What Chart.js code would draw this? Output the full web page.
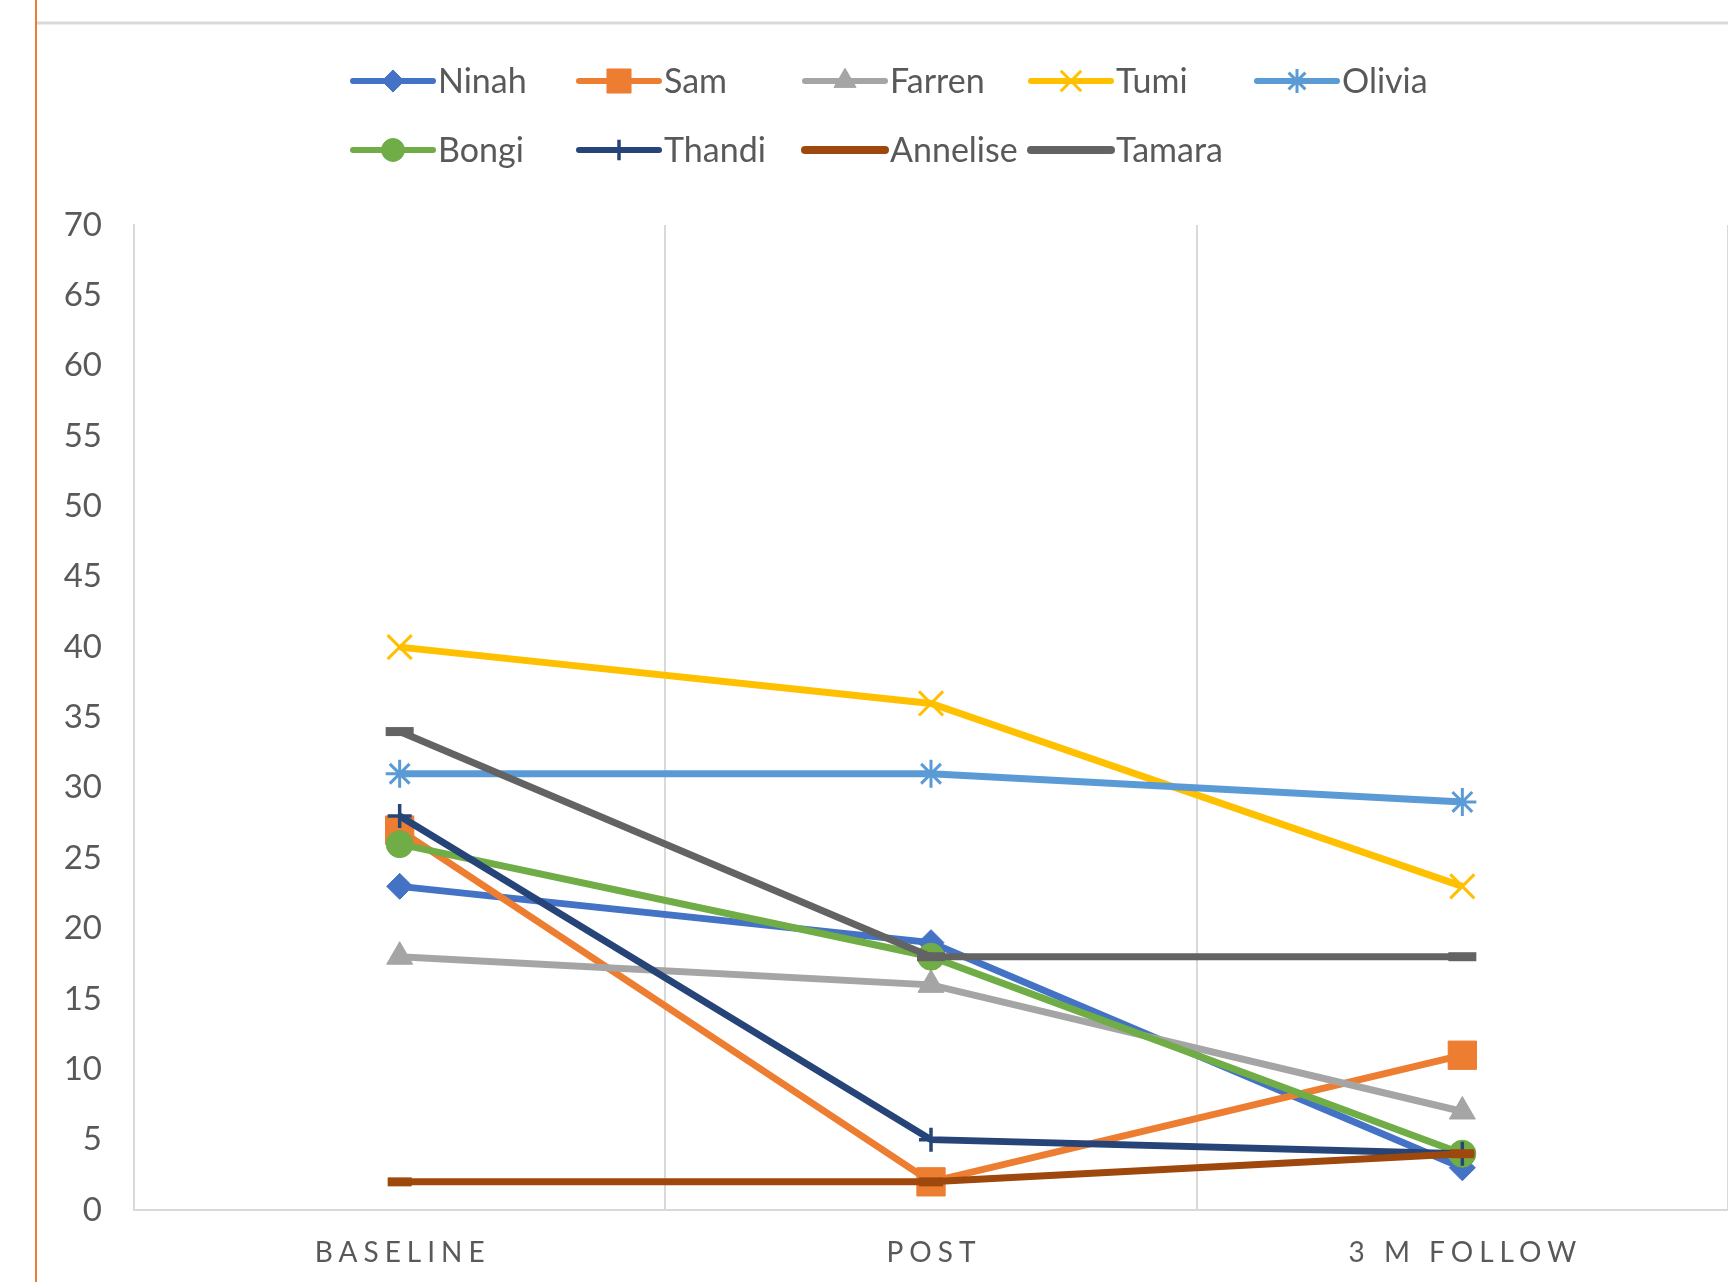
<!DOCTYPE html>
<html>
<head>
<meta charset="utf-8">
<script src="https://cdn.jsdelivr.net/npm/chart.js@4/dist/chart.umd.min.js"></script>
<style>
  html, body { margin: 0; padding: 0; background: #fff; }
  #wrap { width: 1728px; height: 1282px; }
</style>
</head>
<body>
<div id="wrap"><canvas id="scoreChart" width="1728" height="1282"></canvas></div>
<script>
const categories = ['BASELINE', 'POST', '3 M FOLLOW'];
const names = ['Ninah', 'Sam', 'Farren', 'Tumi', 'Olivia', 'Bongi', 'Thandi', 'Annelise', 'Tamara'];

const ninah = [23, 19, 3];
const sam = [27, 2, 11];
const farren = [18, 16, 7];
const tumi = [40, 36, 23];
const olivia = [31, 31, 29];
const bongi = [26, 18, 4];
const thandi = [28, 5, 4];
const annelise = [2, 2, 4];
const tamara = [34, 18, 18];

const yMin = 0;
const yMax = 70;
const yStep = 5;

const values = [ninah, sam, farren, tumi, olivia, bongi, thandi, annelise, tamara];

// colour + marker for each series, same order as names
const looks = [
    { color: '#4472C4', style: 'rectRot', radius: 13, markerWidth: 1 },
    { color: '#ED7D31', style: 'rect', radius: 20, markerWidth: 1 },
    { color: '#A5A5A5', style: 'triangle', radius: 15, markerWidth: 1 },
    { color: '#FFC000', style: 'crossRot', radius: 17, markerWidth: 3 },
    { color: '#5B9BD5', style: 'star', radius: 14, markerWidth: 3 },
    { color: '#70AD47', style: 'circle', radius: 13.5, markerWidth: 1 },
    { color: '#264478', style: 'cross', radius: 12, markerWidth: 3.5 },
    { color: '#9E480E', style: 'line', radius: 12, markerWidth: 9 },
    { color: '#636363', style: 'line', radius: 14, markerWidth: 9 },
];

const textColor = '#595959';
const gridColor = '#d9d9d9';
const fontFamily = 'Lato, "Open Sans", sans-serif';

const datasets = names.map((name, i) => ({
    label: name,
    data: values[i],
    borderColor: looks[i].color,
    backgroundColor: looks[i].color,
    borderWidth: 7,
    tension: 0,
    pointStyle: looks[i].style,
    pointRadius: looks[i].radius,
    pointBorderWidth: looks[i].markerWidth,
    pointBackgroundColor: looks[i].color,
    pointBorderColor: looks[i].color,
    order: names.length - i, // later series sit on top
}));

function drawMarker(ctx, look, x, y, scale) {
    ctx.fillStyle = look.color;
    ctx.strokeStyle = look.color;
    ctx.lineWidth = look.markerWidth;
    if (Chart.helpers && Chart.helpers.drawPoint) {
        Chart.helpers.drawPoint(ctx, {
            pointStyle: look.style,
            radius: look.radius * scale,
            borderWidth: look.markerWidth,
            rotation: 0,
        }, x, y);
    }
}

// outer frame, custom legend and spaced category labels
const decorations = {
    id: 'decorations',
    beforeDraw(chart) {
        const ctx = chart.ctx;
        ctx.save();
        ctx.fillStyle = '#fff';
        ctx.fillRect(0, 0, chart.width, chart.height);
        ctx.strokeStyle = '#d9d9d9';
        ctx.lineWidth = 3;
        ctx.beginPath();
        ctx.moveTo(36, 23);
        ctx.lineTo(chart.width, 23);
        ctx.stroke();
        ctx.strokeStyle = '#ED7D31';
        ctx.lineWidth = 2;
        ctx.beginPath();
        ctx.moveTo(36, 0);
        ctx.lineTo(36, chart.height);
        ctx.stroke();
        ctx.restore();
    },
    afterDraw(chart) {
        const ctx = chart.ctx;
        ctx.save();

        // legend: 5 columns, 2 rows
        const colX = [350, 576, 802, 1028, 1254];
        const rowY = [81, 150];
        ctx.font = '34px ' + fontFamily;
        ctx.textBaseline = 'middle';
        ctx.textAlign = 'left';
        names.forEach((name, i) => {
            const x0 = colX[i % 5];
            const y = rowY[Math.floor(i / 5)];
            const look = looks[i];
            ctx.strokeStyle = look.color;
            ctx.lineWidth = look.style === 'line' ? 8 : 6;
            ctx.lineCap = 'round';
            ctx.beginPath();
            ctx.moveTo(x0 + 3, y);
            ctx.lineTo(x0 + 83, y);
            ctx.stroke();
            ctx.lineCap = 'butt';
            if (look.style !== 'line') drawMarker(ctx, look, x0 + 43, y, 0.85);
            ctx.fillStyle = textColor;
            ctx.fillText(name, x0 + 88, y + 1);
        });

        // category labels with wide letter spacing
        const xScale = chart.scales.x;
        ctx.font = '28px ' + fontFamily;
        ctx.fillStyle = textColor;
        ctx.textAlign = 'center';
        ctx.letterSpacing = '6px';
        categories.forEach((label, i) => {
            ctx.fillText(label, xScale.getPixelForValue(i) + 3, 1253);
        });
        ctx.restore();
    }
};

const ctx = document.getElementById('scoreChart').getContext('2d');

new Chart(ctx, {
    type: 'line',
    data: {
        labels: categories,
        datasets: datasets,
    },
    plugins: [decorations],
    options: {
        responsive: false,
        animation: false,
        devicePixelRatio: 1,
        layout: {
            autoPadding: false,
            padding: { top: 225, right: 0, bottom: 0, left: 0 },
        },
        scales: {
            x: {
                offset: true,
                grid: {
                    offset: true,
                    color: gridColor,
                    lineWidth: 2,
                    drawTicks: false,
                },
                border: { display: true, color: gridColor, width: 2 },
                ticks: { display: false },
                afterFit(scale) { scale.height = 72; },
            },
            y: {
                min: yMin,
                max: yMax,
                ticks: {
                    stepSize: yStep,
                    color: textColor,
                    padding: 32,
                    font: { family: fontFamily, size: 33 },
                },
                grid: { display: false, drawTicks: false },
                border: { display: true, color: gridColor, width: 2 },
                afterFit(scale) { scale.width = 134; },
            },
        },
        plugins: {
            legend: { display: false },
            tooltip: { enabled: false },
        },
    },
});
</script>
</body>
</html>
